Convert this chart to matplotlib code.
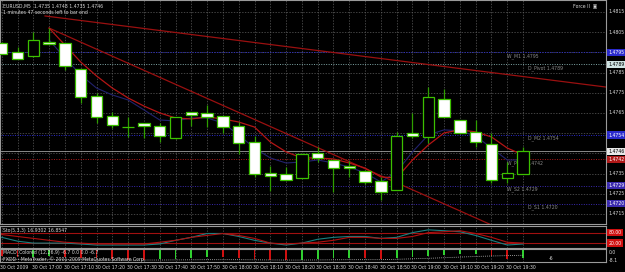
import numpy as np
import matplotlib.pyplot as plt

# EURUSD M5 candles, 30 Oct 2009 16:50 .. 19:35
opens = [1.47996, 1.47952, 1.47932, 1.48001, 1.47996, 1.47867, 1.47734, 1.47635, 1.47580, 1.47600,
         1.47585, 1.47526, 1.47655, 1.47650, 1.47635, 1.47585, 1.47506, 1.47353, 1.47348, 1.47328,
         1.47452, 1.47417, 1.47387, 1.47363, 1.47313, 1.47269, 1.47551, 1.47531, 1.47719, 1.47615,
         1.47556, 1.47496, 1.47328, 1.4735]
highs = [1.48001, 1.47976, 1.48051, 1.48070, 1.47996, 1.47867, 1.47749, 1.47655, 1.47630, 1.47600,
         1.47600, 1.47630, 1.47655, 1.47689, 1.47635, 1.47605, 1.47536, 1.47387, 1.47382, 1.47447,
         1.47481, 1.47417, 1.47412, 1.47368, 1.47333, 1.47555, 1.47650, 1.47778, 1.47768, 1.47615,
         1.47615, 1.47551, 1.47407, 1.4748]
lows = [1.47942, 1.47917, 1.47927, 1.47991, 1.47862, 1.47699, 1.47600, 1.47575, 1.47531, 1.47526,
        1.47506, 1.47521, 1.47585, 1.47580, 1.47551, 1.47447, 1.47333, 1.47264, 1.47318, 1.47328,
        1.47407, 1.47259, 1.47333, 1.47298, 1.47219, 1.47269, 1.47526, 1.47501, 1.47630, 1.47551,
        1.47481, 1.47303, 1.47303, 1.4735]
closes = [1.47942, 1.47917, 1.48011, 1.47991, 1.47882, 1.47729, 1.47630, 1.47590, 1.47578, 1.47585,
          1.47536, 1.47630, 1.47640, 1.47630, 1.47580, 1.47501, 1.47348, 1.47338, 1.47318, 1.47447,
          1.47427, 1.47377, 1.47377, 1.47308, 1.47259, 1.47536, 1.47536, 1.47729, 1.47630, 1.47551,
          1.47506, 1.47318, 1.47353, 1.4746]

# moving averages (start at bar 3)
ma_red = [1.48070, 1.47986, 1.47902, 1.47833, 1.47773, 1.47724, 1.47684, 1.47650, 1.47625, 1.47620,
          1.47630, 1.47620, 1.47605, 1.47580, 1.47506, 1.47457, 1.47427, 1.47427, 1.47422, 1.47402,
          1.47377, 1.47333, 1.47328, 1.47417, 1.47491, 1.47551, 1.47566, 1.47556, 1.47531, 1.47476,
          1.47442]
ma_blue = [1.48011, 1.47922, 1.47838, 1.47773, 1.47739, 1.47714, 1.47665, 1.47615, 1.47610, 1.47625,
           1.47625, 1.47600, 1.47541, 1.47476, 1.47427, 1.47402, 1.47407, 1.47417, 1.47402, 1.47382,
           1.47353, 1.47308, 1.47358, 1.47457, 1.47541, 1.47566, 1.47561, 1.47536, 1.47476, 1.47417,
           1.47417]
ma_start = 3

# trend lines: (bar, price) end points
trend_a = [(2.74, 1.48130), (38.25, 1.47778)]
trend_b = [(3.0, 1.48070), (38.25, 1.46843)]

# pivot levels
pivot_names = ["W_M1", "D_Pivot", "D_M2", "W_Pivot", "W_S2", "D_S1"]
pivot_values = [1.4795, 1.4789, 1.4754, 1.4742, 1.4729, 1.4720]
pivot_colors = ["#2a2acc", "#7fa6a6", "#2a2acc", "#b01818", "#3a2ab0", "#3a2ab0"]
bid = 1.4746

price_ticks = [1.4715, 1.4725, 1.4735, 1.4745, 1.4755, 1.4765, 1.4775, 1.4785, 1.4795, 1.4805, 1.4815]

# stochastic (5,3,3)
sto_main = [53, 31, 20, 20, 20, 15, 9, 9, 9, 9, 15, 36, 53, 75, 75, 58, 36, 20, 9, 20,
            42, 53, 58, 58, 47, 53, 80, 96, 91, 85, 64, 36, 9, 15]
sto_signal = [69, 58, 47, 36, 25, 20, 15, 15, 15, 15, 25, 36, 53, 64, 75, 64, 47, 20, 15, 20,
              25, 36, 53, 53, 47, 47, 58, 80, 85, 91, 75, 53, 25, 20]

# MACD colored histogram
macd_hist = [-4.5, -6.0, -5.6, -5.2, -5.5, -6.2, -6.8, -7.4, -7.8, -8.0, -7.6, -7.0, -6.2, -5.4,
             -5.6, -6.3, -7.0, -7.8, -8.3, -7.9, -7.3, -6.8, -6.5, -6.8, -7.3, -6.5, -5.5, -4.5,
             -3.8, -3.5, -3.4, -4.5, -7.0, -6.7]
macd_signal = [-7.5, -7.6, -7.7, -7.8, -7.9, -8.0, -8.1, -8.1, -8.2, -8.2, -8.2, -8.1, -8.0, -7.9,
               -7.9, -7.9, -8.0, -8.1, -8.2, -8.2, -8.1, -8.0, -7.9, -7.9, -7.9, -7.6, -7.2, -6.8,
               -6.3, -5.8, -5.3, -4.9, -4.6, -4.3]

time_labels = ["30 Oct 2009", "30 Oct 17:00", "30 Oct 17:10", "30 Oct 17:20", "30 Oct 17:30",
               "30 Oct 17:40", "30 Oct 17:50", "30 Oct 18:00", "30 Oct 18:10", "30 Oct 18:20",
               "30 Oct 18:30", "30 Oct 18:40", "30 Oct 18:50", "30 Oct 19:00", "30 Oct 19:10",
               "30 Oct 19:20", "30 Oct 19:30"]

W, H = 625, 272
fs = 3.3
grid_c = "#5c5c5c"
frame_c = "#9a9a9a"
txt_c = "#d8d8d8"

fig = plt.figure(figsize=(W / 100, H / 100), dpi=100, facecolor="black")


def px_axes(top, bottom):
    return fig.add_axes([0, (H - bottom) / H, 606 / W, (bottom - top) / H], facecolor="black")


ax = px_axes(0, 224)
ax_s = px_axes(226, 248)
ax_m = px_axes(249, 262)

n = len(opens)
x = np.arange(n)
xlim = (-0.11, 38.25)

for a in (ax, ax_s, ax_m):
    a.set_xlim(*xlim)
    a.set_xticks([])
    a.set_yticks([])
    for s in a.spines.values():
        s.set_color(frame_c)
        s.set_linewidth(0.8)
    for xi in x:
        a.axvline(xi, color=grid_c, lw=0.5, ls=(0, (2, 2)), zorder=0)

# ---- main price panel
ax.set_ylim(1.47100, 1.48209)
boxed = pivot_values + [bid]
for p in price_ticks:
    ax.axhline(p, color=grid_c, lw=0.5, ls=(0, (2, 2)), zorder=0)
    if min(abs(p - b) for b in boxed) < 0.00025:
        continue  # label hidden behind a level box
    ax.text(1.004, p, f"{p:.4f}", transform=ax.get_yaxis_transform(), fontsize=fs,
            color=txt_c, va="center", ha="left", clip_on=False)

for name, val, col in zip(pivot_names, pivot_values, pivot_colors):
    ax.axhline(val, color=col, lw=0.7, ls=(0, (1, 1.5)), zorder=1)
    ax.text(32.0 if name.startswith("W") else 33.3, val - 0.00003, f"{name} {val:.4f}",
            fontsize=fs, color="#8a8a8a", va="top", ha="left", zorder=1)
    box_fc = col if name != "D_Pivot" else "#cfe3e3"
    ax.text(1.004, val, f"{val:.4f}", transform=ax.get_yaxis_transform(), fontsize=fs,
            color="white" if name != "D_Pivot" else "black", va="center", ha="left", clip_on=False,
            bbox=dict(boxstyle="square,pad=0.25", fc=box_fc, ec="none"), zorder=5)

ax.axhline(bid, color="#a0a0a0", lw=0.6, zorder=1)
ax.text(1.004, bid, f"{bid:.4f}", transform=ax.get_yaxis_transform(), fontsize=fs,
        color="black", va="center", ha="left", clip_on=False,
        bbox=dict(boxstyle="square,pad=0.25", fc="#e8e8e8", ec="none"), zorder=6)

ax.plot(*zip(*trend_a), color="#9a1010", lw=0.9, zorder=2)
ax.plot(*zip(*trend_b), color="#9a1010", lw=0.9, zorder=2)
ax.plot(np.arange(ma_start, n), ma_blue, color="#22226e", lw=0.8, zorder=2)
ax.plot(np.arange(ma_start, n), ma_red, color="#b31515", lw=0.9, zorder=2)

o = np.array(opens)
c = np.array(closes)
bull = c > o
body_lo = np.minimum(o, c)
body_h = np.maximum(np.abs(c - o), 0.000015)
ax.vlines(x, lows, highs, color="#2f9f00", lw=0.9, zorder=3)
ax.bar(x, body_h, bottom=body_lo, width=0.72,
       color=np.where(bull, "black", "white"), edgecolor="#3cc000", linewidth=0.9, zorder=4)

ax.text(0.005, 0.985, "EURUSD,M5  1.4735 1.4748 1.4735 1.4746", transform=ax.transAxes,
        fontsize=fs, color=txt_c, va="top", ha="left")
ax.text(0.005, 0.955, "1 minutes 47 seconds left to bar end", transform=ax.transAxes,
        fontsize=fs, color=txt_c, va="top", ha="left")
ax.text(0.985, 0.985, "Force II  \u25a3", transform=ax.transAxes,
        fontsize=fs, color=txt_c, va="top", ha="right")

# ---- stochastic panel
ax_s.set_ylim(-8, 118)
for lvl in (80, 20):
    ax_s.axhline(lvl, color="#a01010", lw=0.8, zorder=1)
    ax_s.text(1.004, lvl, f"{lvl:.2f}", transform=ax_s.get_yaxis_transform(), fontsize=fs,
              color="white", va="center", ha="left", clip_on=False,
              bbox=dict(boxstyle="square,pad=0.25", fc="#d01010", ec="none"))
ax_s.plot(x, sto_main, color="#1a8080", lw=0.8, zorder=2)
ax_s.plot(x, sto_signal, color="#b01010", lw=0.8, zorder=2)
ax_s.text(0.005, 0.93, "Sto(5,3,3) 16.9302 16.8547", transform=ax_s.transAxes,
          fontsize=fs, color=txt_c, va="top", ha="left")

# ---- MACD panel
ax_m.set_ylim(-9.8, 0.8)
h = np.array(macd_hist)
rising = np.r_[False, h[1:] > h[:-1]]
ax_m.bar(x, h, width=0.12, color=np.where(rising, "#30d030", "#d01010"), zorder=2)
ax_m.plot(x, macd_signal, color="#c0c0c0", lw=0.6, ls=(0, (1, 1.5)), zorder=3)
ax_m.text(34.6, macd_hist[-1], "-6", fontsize=fs, color=txt_c, va="center", ha="left")
ax_m.text(0.005, 0.95, "MACD_Colored (12,26,9) -6.7 0.0 0.0 -6.7", transform=ax_m.transAxes,
          fontsize=fs, color=txt_c, va="top", ha="left")
ax_m.text(0.005, 0.45, "FXDD - MetaTrader, \u00a9 2001-2009 MetaQuotes Software Corp.",
          transform=ax_m.transAxes, fontsize=fs, color=txt_c, va="top", ha="left")
ax_m.text(1.004, 0.75, "0.0", transform=ax_m.transAxes, fontsize=fs, color=txt_c,
          va="center", ha="left")
ax_m.text(1.004, 0.15, "-8.1", transform=ax_m.transAxes, fontsize=fs, color=txt_c,
          va="center", ha="left")

# time axis
for k, lab in enumerate(time_labels):
    ax_m.text(2 * k - 0.08, -0.42, lab, transform=ax_m.get_xaxis_transform(), fontsize=fs,
              color=txt_c, va="center", ha="left", clip_on=False)

fig.savefig("out.png", dpi=100, facecolor="black")
